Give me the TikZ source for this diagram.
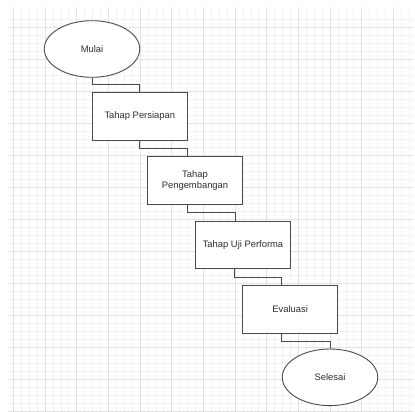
\documentclass[tikz,border=0pt]{standalone}
\usepackage{fontspec}
\setmainfont{Liberation Sans}
\usetikzlibrary{shapes.geometric,calc}
\definecolor{minorgrid}{HTML}{F3F3F3}
\definecolor{majorgrid}{HTML}{E2E2E2}
\definecolor{strokec}{HTML}{4A4A4A}
\definecolor{textc}{HTML}{2E2E2E}
\begin{document}
\begin{tikzpicture}[x=1pt,y=-1pt,
  every node/.style={font=\fontsize{9.4}{11.5}\selectfont, text=textc},
  terminal/.style={ellipse, draw=strokec, line width=0.9pt, fill=white, minimum width=95.5pt, minimum height=56.6pt, inner sep=0pt},
  stepbox/.style={rectangle, draw=strokec, line width=0.9pt, fill=white, minimum width=95pt, minimum height=47.5pt, inner sep=0pt, align=center},
  link/.style={draw=strokec, line width=0.9pt}]
\useasboundingbox (0,0) rectangle (415,412);
\fill[white] (0,0) rectangle (415,412);
% grid
\begin{scope}
\clip (8,8) rectangle (413,412);
\foreach \i in {-1,...,52} {
  \draw[minorgrid, line width=0.6pt] ({13.3+7.917*\i},0) -- ({13.3+7.917*\i},412);
  \draw[minorgrid, line width=0.6pt] (0,{27.3+8.0*\i}) -- (415,{27.3+8.0*\i});
}
\foreach \i in {-1,...,13} {
  \draw[majorgrid, line width=0.6pt] ({13.3+31.67*\i},0) -- ({13.3+31.67*\i},412);
  \draw[majorgrid, line width=0.6pt] (0,{27.3+32.0*\i}) -- (415,{27.3+32.0*\i});
}
\end{scope}
% nodes
\node[terminal] (m) at (92,49) {Mulai};
\node[stepbox] (b1) at (139.8,116.3) {Tahap Persiapan};
\node[stepbox] (b2) at (195,180.5) {Tahap\\Pengembangan};
\node[stepbox] (b3) at (243,245) {Tahap Uji Performa};
\node[stepbox] (b4) at (290.2,309.3) {Evaluasi};
\node[terminal] (s) at (330,377.3) {Selesai};
% attachment points
\coordinate (b2in) at ([xshift=40pt]b2.north west);
\coordinate (b2out) at ([xshift=40pt]b2.south west);
\coordinate (b3in) at ([xshift=40pt]b3.north west);
\coordinate (b3out) at ([xshift=39pt]b3.south west);
\coordinate (b4in) at ([xshift=39.6pt]b4.north west);
\coordinate (b4out) at ([xshift=39.6pt]b4.south west);
\coordinate (k1) at ($(m.south)!0.5!(b1.north)$);
\coordinate (k2) at ($(b1.south)!0.5!(b2in)$);
\coordinate (k3) at ($(b2out)!0.5!(b3in)$);
\coordinate (k4) at ($(b3out)!0.5!(b4in)$);
\coordinate (k5) at ($(b4out)!0.5!(s.north)$);
% connectors
\draw[link] (m.south) -- (m.south |- k1) -| (b1.north);
\draw[link] (b1.south) -- (b1.south |- k2) -| (b2in);
\draw[link] (b2out) -- (b2out |- k3) -| (b3in);
\draw[link] (b3out) -- (b3out |- k4) -| (b4in);
\draw[link] (b4out) -- (b4out |- k5) -| (s.north);
\end{tikzpicture}
\end{document}
